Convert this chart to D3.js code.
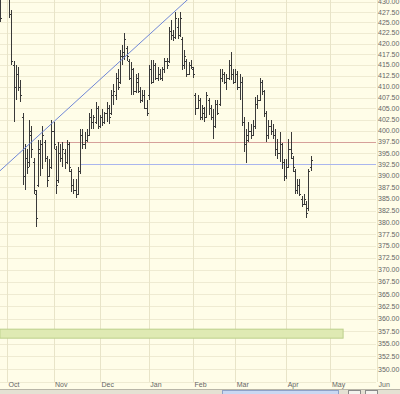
<!DOCTYPE html>
<html>
<head>
<meta charset="utf-8">
<script src="https://cdn.jsdelivr.net/npm/d3@7"></script>
<style>
  body { margin: 0; background: #fffde8; }
  svg { display: block; }
  text { font-family: "Liberation Sans", Arial, sans-serif; font-size: 7px; fill: #666; }
</style>
</head>
<body>
<svg id="chart"></svg>
<script>
var width = 400;
var height = 394;

// trading day index of each bar, counted from Oct 1
var firstIndex = -3;

var opens = [428, 432, 433, 432, 431, 427, 415, 410, 413, 410,
  403, 390, 394, 393, 399, 393, 386, 388, 395, 397,
  397.5, 394, 390, 392, 400, 396, 389, 395, 394, 395,
  393, 397, 391, 388, 387, 386, 391, 399, 397, 398,
  399, 403, 402, 402, 405, 401, 403, 402, 404, 405,
  404, 408, 408, 412, 411, 417, 417, 419, 416, 412,
  414, 409, 411, 409, 407, 408, 405, 408, 414, 411,
  415, 412, 413, 412, 414, 416, 416, 423, 422, 421.5,
  424, 422, 421, 415, 416, 413, 415, 414, 408, 405,
  407, 403, 404, 403, 407, 405, 403, 401, 406, 406,
  412, 413, 411, 412, 415, 413, 411, 413, 410, 411,
  402, 397, 398, 400, 399, 401, 406, 407, 411, 409,
  404, 399, 401, 400, 399, 396, 395, 397, 393, 390,
  392, 396, 394, 391, 387, 388, 385, 384, 384, 383,
  392];
var highs = [430.4, 434, 435, 434, 433, 428, 416, 415, 414.5, 411.6,
  404, 397, 396, 402.3, 401, 394, 387, 398, 398, 401,
  398, 394.4, 393.7, 402.3, 402, 396.5, 397.4, 397, 397.4, 396,
  398, 397.4, 391.5, 389.3, 389.3, 392, 400.3, 400.3, 399.6, 400.3,
  404, 404.8, 403.6, 406.5, 405.5, 403.5, 404.8, 404.3, 406.5, 405.8,
  409.3, 410.5, 413.2, 414, 418.5, 419.6, 422.5, 419.5, 416.5, 415.7,
  414.2, 412.8, 413.2, 410, 409.3, 409.3, 407, 415, 416.2, 416.2,
  415.5, 414.5, 414, 414.5, 416.7, 416.6, 424, 425.6, 423.2, 427.5,
  426, 427.5, 421.6, 418.5, 416.5, 415.7, 416.2, 414.6, 408.6, 408,
  407.5, 405.8, 405.3, 408.8, 407.4, 405.8, 404.8, 407, 407, 414,
  414, 413.4, 412.8, 416.2, 418, 414, 414, 413.5, 412.8, 412.3,
  403, 400.3, 401.9, 401.4, 402.5, 407.6, 408, 412, 411.6, 409.2,
  404.5, 402.5, 402.5, 401.4, 400.3, 398.1, 399.6, 397.3, 393.7, 393.7,
  398.1, 399.6, 394.4, 391.5, 389.3, 389.3, 385.6, 386, 384.5, 391.5,
  394.4];
var lows = [425, 430.8, 431, 430.6, 426, 415, 402, 407, 409, 406.5,
  388, 387, 390.5, 392, 394, 386, 379, 387.5, 390, 391.5,
  393, 387.5, 389.8, 391.5, 396, 386, 388.5, 393, 392, 391.5,
  392.5, 390.8, 386.5, 386, 385.2, 385.8, 390.5, 396, 396, 397.4,
  398.8, 400.3, 400.3, 401.5, 400.3, 400.5, 401, 401.5, 402, 401.5,
  403.5, 405.8, 407, 409.3, 410.5, 415, 416.2, 416, 411.6, 408,
  408, 408.5, 408.6, 406.3, 406.5, 404.8, 403.2, 407, 410.5, 410.8,
  411.6, 411.4, 411.6, 411.4, 413.2, 414, 415.5, 420.9, 420.5, 421,
  421, 421.5, 413.9, 414, 412.3, 412.8, 414, 412, 403.5, 404.8,
  402.5, 402.5, 402, 402.8, 403.6, 402.5, 398.1, 400.5, 403.6, 405.5,
  411, 410.5, 409.3, 411.6, 411.6, 410.5, 410.8, 409.3, 407, 401,
  395.2, 392.8, 397.4, 398.1, 398.8, 400.3, 404.8, 406.8, 408, 403,
  397.4, 398.1, 399, 398.1, 394.4, 393.7, 393, 391.5, 388.8, 389.3,
  391.8, 393.7, 390.8, 386, 386, 385.6, 383.2, 383.8, 381, 382.4,
  391];
var closes = [426, 433, 432, 431, 427, 416, 410, 413, 410, 408,
  390, 394, 392, 400, 396, 387, 381, 396, 397, 399,
  394, 389, 392, 400, 397, 388, 395, 394, 396, 393,
  397, 392, 388, 387, 386, 391, 399, 397, 398, 399,
  403, 402, 403, 405, 401, 403, 402, 404, 405, 403,
  408, 409, 412, 410, 417, 418, 421, 417, 412, 414,
  409, 412, 409, 407, 408, 405, 404, 414, 411, 415,
  412, 413, 412, 414, 416, 415, 423, 422, 421.5, 426,
  422, 426, 415, 417, 413, 415, 414.5, 413, 405, 407,
  403, 405, 403, 408, 405, 403, 401, 406, 404, 412,
  413, 411, 412, 415, 413, 411, 413, 410, 411, 402,
  397, 399, 400, 399, 401, 406, 407, 411, 409, 404,
  399, 401, 400, 399, 396, 395, 397, 393, 390, 392,
  396, 395, 392, 387, 388, 386, 384, 385, 382, 391,
  393.5];

var months = ["Oct", "Nov", "Dec", "Jan", "Feb", "Mar", "Apr", "May", "Jun"];
var monthStarts = [0, 21, 42, 64, 84, 103, 126, 146, 167];

var priceTicks = d3.range(347.5, 430.01, 2.5);

// drawn lines and band: [index, price]
var trendLine = [[-3.2, 391.1], [83, 431.2]];
var redLevel = { from: 22.6, price: 397.5 };
var blueLevel = { from: 33, price: 392.7 };
var greenBand = { from: -3.2, to: 151.7, low: 356.1, high: 357.9 };

var plotW = 376;
var plotH = 382;

var x = d3.scaleLinear().domain([0, 167]).range([7, 377]);
var y = d3.scaleLog().domain([350, 427.5]).range([369, 12]);

var bars = opens.map(function(o, k) {
    return { i: firstIndex + k, o: o, h: highs[k], l: lows[k], c: closes[k] };
});

var svg = d3.select("#chart").attr("width", width).attr("height", height);

svg.append("defs").append("clipPath").attr("id", "plotclip")
    .append("rect").attr("width", plotW).attr("height", plotH);

svg.append("rect").attr("width", width).attr("height", height).attr("fill", "#fffde8");

var grid = svg.append("g").attr("shape-rendering", "crispEdges");
grid.selectAll("line.h")
    .data(priceTicks)
    .enter().append("line")
    .attr("class", "h")
    .attr("x1", 0).attr("x2", plotW)
    .attr("y1", function(d) { return Math.round(y(d)) + 0.5; })
    .attr("y2", function(d) { return Math.round(y(d)) + 0.5; })
    .attr("stroke", "#efebd2");
grid.selectAll("line.v")
    .data(monthStarts)
    .enter().append("line")
    .attr("class", "v")
    .attr("x1", function(d) { return Math.round(x(d)) + 0.5; })
    .attr("x2", function(d) { return Math.round(x(d)) + 0.5; })
    .attr("y1", 0).attr("y2", plotH)
    .attr("stroke", "#e8e4c8");

var plot = svg.append("g").attr("clip-path", "url(#plotclip)");

plot.append("rect")
    .attr("x", x(greenBand.from))
    .attr("y", y(greenBand.high))
    .attr("width", x(greenBand.to) - x(greenBand.from))
    .attr("height", y(greenBand.low) - y(greenBand.high))
    .attr("fill", "#dfeab3")
    .attr("stroke", "#bccf8c")
    .attr("stroke-width", 1);

plot.append("line")
    .attr("x1", x(redLevel.from)).attr("x2", plotW)
    .attr("y1", Math.round(y(redLevel.price)) + 0.5).attr("y2", Math.round(y(redLevel.price)) + 0.5)
    .attr("shape-rendering", "crispEdges")
    .attr("stroke", "#d6a09a").attr("stroke-width", 1);

plot.append("line")
    .attr("x1", x(blueLevel.from)).attr("x2", plotW)
    .attr("y1", Math.round(y(blueLevel.price)) + 0.5).attr("y2", Math.round(y(blueLevel.price)) + 0.5)
    .attr("shape-rendering", "crispEdges")
    .attr("stroke", "#aab6ee").attr("stroke-width", 1);

var ohlc = plot.append("g")
    .attr("stroke", "#3a3a3a")
    .attr("stroke-width", 1)
    .attr("shape-rendering", "crispEdges")
    .selectAll("g")
    .data(bars)
    .enter().append("g")
    .attr("transform", function(d) { return "translate(" + (Math.round(x(d.i)) + 0.5) + ",0)"; });

ohlc.append("line")
    .attr("y1", function(d) { return y(d.h); })
    .attr("y2", function(d) { return y(d.l); });
ohlc.append("line")
    .attr("x1", -1.5).attr("x2", 0)
    .attr("y1", function(d) { return Math.round(y(d.o)) + 0.5; })
    .attr("y2", function(d) { return Math.round(y(d.o)) + 0.5; });
ohlc.append("line")
    .attr("x1", 0).attr("x2", 1.5)
    .attr("y1", function(d) { return Math.round(y(d.c)) + 0.5; })
    .attr("y2", function(d) { return Math.round(y(d.c)) + 0.5; });

plot.append("line")
    .attr("x1", x(trendLine[0][0])).attr("y1", y(trendLine[0][1]))
    .attr("x2", x(trendLine[1][0])).attr("y2", y(trendLine[1][1]))
    .attr("stroke", "#6f86d6").attr("stroke-width", 1);

// right price labels
svg.append("g").selectAll("text")
    .data(priceTicks.filter(function(d) { return d >= 350; }))
    .enter().append("text")
    .attr("x", 378)
    .attr("y", function(d) { return y(d) + 2.5; })
    .text(function(d) { return d3.format(".2f")(d); });

// month labels
svg.append("g").selectAll("text")
    .data(months)
    .enter().append("text")
    .attr("x", function(d, k) { return x(monthStarts[k]) + 1.5; })
    .attr("y", 387)
    .text(function(d) { return d; });

// scroll strip at the bottom
svg.append("rect").attr("x", 0).attr("y", 389).attr("width", width).attr("height", 5).attr("fill", "#e4e1d3");
svg.append("line").attr("x1", 0).attr("x2", width).attr("y1", 389.5).attr("y2", 389.5).attr("stroke", "#b9b6a8");
svg.append("rect").attr("x", 222.5).attr("y", 390.5).attr("width", 116).attr("height", 5)
    .attr("fill", "#c9d8f2").attr("stroke", "#8ea2c8");
svg.append("rect").attr("x", 348.5).attr("y", 390.5).attr("width", 12).attr("height", 5)
    .attr("fill", "#f4f3ee").attr("stroke", "#8a8a8a");
svg.append("rect").attr("x", 365.5).attr("y", 390.5).attr("width", 12).attr("height", 5)
    .attr("fill", "#f4f3ee").attr("stroke", "#8a8a8a");
</script>
</body>
</html>
